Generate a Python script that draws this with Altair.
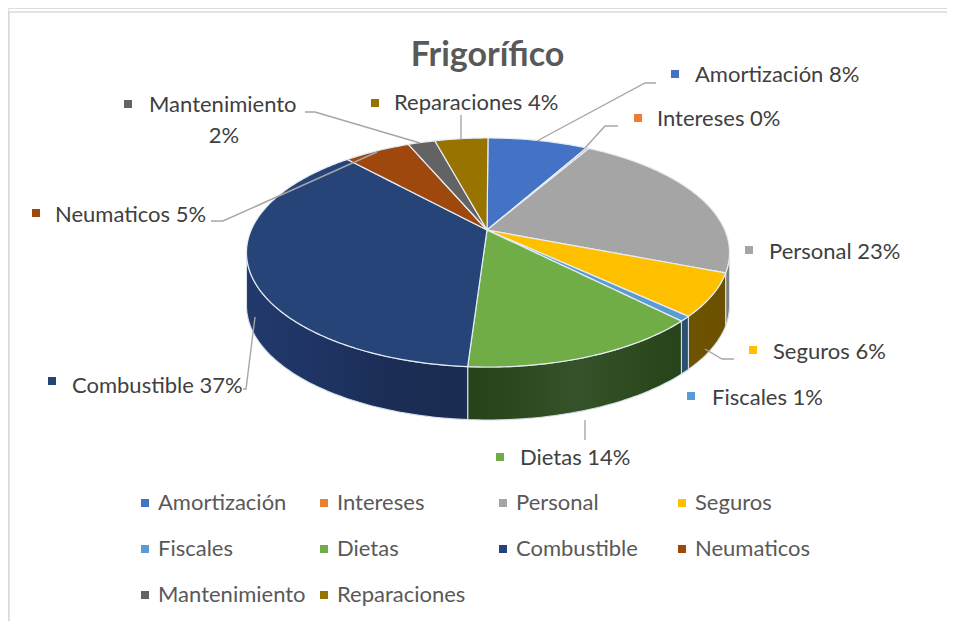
import math
import numpy as np
import pandas as pd
import altair as alt

# ---- values
categories = ["Amortización", "Intereses", "Personal", "Seguros", "Fiscales",
              "Dietas", "Combustible", "Neumaticos", "Mantenimiento", "Reparaciones"]
shares = [8.1, 0.2, 22.6, 6.0, 0.7, 13.5, 37.0, 5.4, 2.2, 4.3]
percent_labels = ["8%", "0%", "23%", "6%", "1%", "14%", "37%", "5%", "2%", "4%"]
colors = ["#4472c4", "#ed7d31", "#a5a5a5", "#ffc000", "#5b9bd5",
          "#70ad47", "#264478", "#9e480e", "#636363", "#997300"]

# ---- layout (image pixels)
W, H = 939, 613
FONT = "Lato"
X0, Y0, A, B, K, DEPTH = 488.0, 230.0, 236.8, 110.1, 0.1965, 53.0
label_x = [695, 657, 769, 773, 712, 520, 72, 55, 149, 394]
label_y = [75, 119, 252, 352, 398, 458, 386, 215, 105, 103]
marker_x = [675, 638, 749, 753, 691, 500, 52, 36, 128, 375]
marker_y = [74, 118, 250, 350, 396, 457, 381, 213, 104, 103]
leaders = [
    [(537, 141), (645, 83), (656, 83)],
    [(585, 148), (605, 126), (618, 126)],
    [(705, 349), (722, 359), (734, 359)],
    [(585, 420), (585, 440)],
    [(255, 317), (246, 389), (243, 389)],
    [(377, 152), (223, 221), (211, 221)],
    [(305, 112), (315, 112), (420, 143)],
    [(461, 139), (461, 115)],
]
wall_fills = {
    "Personal": ["#7d7d7d", "#7d7d7d"],
    "Seguros": ["#6f5400", "#6a5000"],
    "Fiscales": ["#2c5070", "#2c5070"],
    "Dietas": ["#26421a", "#2c4a1d", "#35522a", "#2e4c1f", "#26431a"],
    "Combustible": ["#22396c", "#1f3463", "#1b2d55", "#1b2c52"],
}


def rim(phi_deg):
    p = math.radians(phi_deg)
    u, v = math.sin(p), -math.cos(p)
    w = 1 - K * v
    return X0 + A * u / w, Y0 + B * v / w


def top_rows():
    rows = []
    cum = 0.0
    for name, s in zip(categories, shares):
        start, end = cum * 3.6, (cum + s) * 3.6
        cum += s
        n = max(3, int((end - start) / 1.0))
        pts = [(X0 - 1, Y0)] + [rim(a) for a in np.linspace(start, end, n)]
        xs_ = np.array([p[0] for p in pts])
        grid = np.unique(np.round(xs_, 3))
        for gx in grid:
            hits = []
            m = len(pts)
            for i in range(m):
                x1, y1 = pts[i]
                x2, y2 = pts[(i + 1) % m]
                lo, hi = min(x1, x2), max(x1, x2)
                if lo - 1e-3 <= gx <= hi + 1e-3:
                    if abs(x2 - x1) < 1e-6:
                        hits += [y1, y2]
                    else:
                        hits.append(y1 + (y2 - y1) * (gx - x1) / (x2 - x1))
            rows.append({"serie": name, "x": float(gx), "y": min(hits), "y2": max(hits)})
    return pd.DataFrame(rows)


def wall_rows(name):
    i = categories.index(name)
    start = sum(shares[:i]) * 3.6
    end = start + shares[i] * 3.6
    a, b = max(start, 101.0), min(end, 259.0)
    rows = []
    for ang in np.linspace(a, b, max(3, int(b - a) + 2)):
        x, y = rim(ang)
        rows.append({"x": x, "y": y, "y2": y + DEPTH})
    return pd.DataFrame(rows)


xs = alt.Scale(domain=[8, 8 + W], nice=False, zero=False)
ys = alt.Scale(domain=[8 + H, 8], nice=False, zero=False)
X = alt.X("x:Q", scale=xs, axis=None)
Y = alt.Y("y:Q", scale=ys, axis=None)

layers = []

# frame
frame = pd.DataFrame({"x": [9, 9], "y": [12, 12], "x2": [9, 947], "y2": [621, 12]})
layers.append(alt.Chart(frame).mark_rule(color="#d9d9d9", strokeWidth=1.5).encode(x=X, y=Y, x2="x2:Q", y2="y2:Q"))

# side walls
for name, stops in wall_fills.items():
    grad = alt.Gradient(
        gradient="linear", x1=0, x2=1, y1=0, y2=0,
        stops=[alt.GradientStop(offset=i / (len(stops) - 1), color=c) for i, c in enumerate(stops)],
    )
    layers.append(alt.Chart(wall_rows(name)).mark_area(fill=grad, stroke="#d5dfe8", strokeWidth=1.1)
                  .encode(x=X, y=Y, y2="y2:Q"))

color = alt.Color(
    "serie:N",
    scale=alt.Scale(domain=categories, range=colors),
    sort=categories,
    legend=alt.Legend(
        title=None, orient="none", legendX=126, legendY=484, columns=4, direction="horizontal",
        symbolType="square", symbolSize=64, symbolStrokeWidth=0,
        labelFont=FONT, labelFontSize=22, labelColor="#595959", labelOffset=2,
        columnPadding=7, rowPadding=24, gridAlign="all", labelLimit=300,
        padding=0,
    ),
)

# top face
layers.append(alt.Chart(top_rows()).mark_area(stroke="#e4ecf4", strokeWidth=1.2)
              .encode(x=X, y=Y, y2="y2:Q", color=color))

# leader lines
lead_rows = [{"g": g, "o": i, "x": p[0], "y": p[1]} for g, line in enumerate(leaders) for i, p in enumerate(line)]
layers.append(alt.Chart(pd.DataFrame(lead_rows)).mark_line(color="#a6a6a6", strokeWidth=1.4)
              .encode(x=X, y=Y, detail="g:N", order="o:Q"))

# data label markers and texts
text_rows = []
for i, name in enumerate(categories):
    t = f"{name} {percent_labels[i]}" if name != "Mantenimiento" else name
    text_rows.append({"serie": name, "t": t, "x": label_x[i], "y": label_y[i]})
text_df = pd.DataFrame(text_rows)
marker_df = pd.DataFrame({"serie": categories, "x": marker_x, "y": marker_y})
layers.append(alt.Chart(marker_df).mark_square(size=64, opacity=1)
              .encode(x=X, y=Y, color=alt.Color("serie:N", scale=alt.Scale(domain=categories, range=colors), legend=None)))
layers.append(alt.Chart(text_df).mark_text(font=FONT, fontSize=22, color="#404040", align="left", baseline="middle")
              .encode(x=X, y=Y, text="t:N"))
extra_df = pd.DataFrame({"t": [percent_labels[8]], "x": [224], "y": [136]})
layers.append(alt.Chart(extra_df).mark_text(font=FONT, fontSize=22, color="#404040", align="center", baseline="middle")
              .encode(x=X, y=Y, text="t:N"))

chart = (
    alt.layer(*layers)
    .properties(
        width=W, height=H, padding=0,
        autosize=alt.AutoSizeParams(type="none"),
        title=alt.TitleParams("Frigorífico", font=FONT, fontSize=34, fontWeight="bold", color="#595959",
                              anchor="middle", dx=10, dy=65, offset=0),
    )
    .configure_view(stroke=None)
    .configure(background="white")
)
chart.save("out.html", embed_options={"renderer": "svg", "actions": False})
